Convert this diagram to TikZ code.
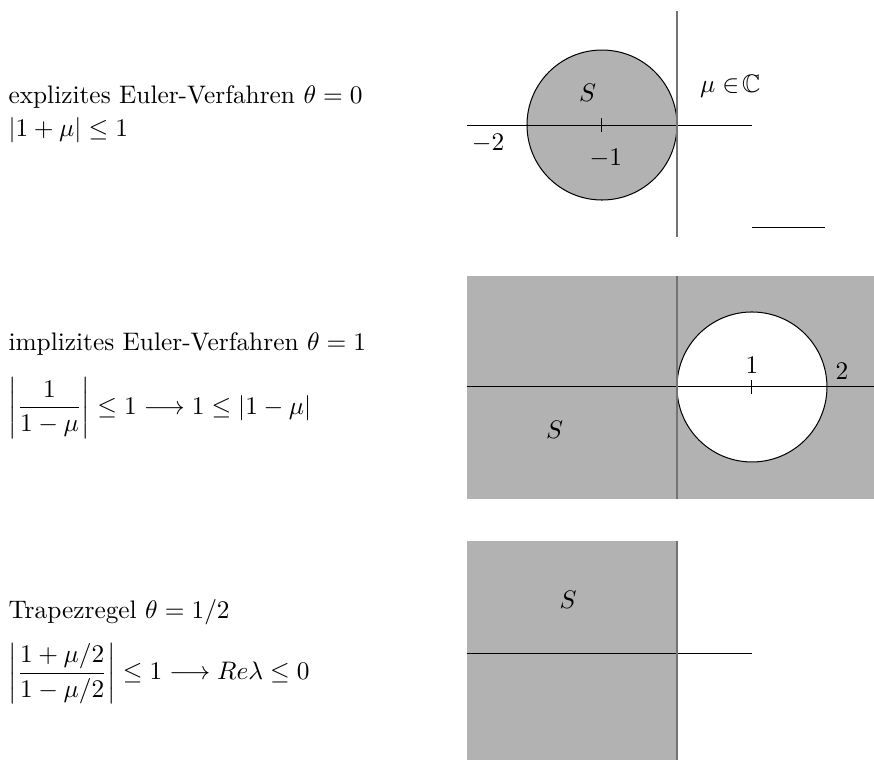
\documentclass[tikz,border=0pt]{standalone}
\definecolor{stabgray}{gray}{0.7}
\definecolor{axisgray}{gray}{0.45}
\usepackage{tikz}
\usepackage{amsmath,amssymb}

\begin{document}
\begin{tikzpicture}[x=1.04cm, y=1.04cm,
  axis/.style={thin, black},
  vaxis/.style={semithick, axisgray},
  region/.style={fill=stabgray},
  lbl/.style={inner sep=1pt},
  txt/.style={anchor=west, inner sep=0pt}]
\useasboundingbox (-9.027,1.667) rectangle (2.627,-8.467);
% explizites Euler-Verfahren
\node[txt] (expl) at (-8.92,0.37) {explizites Euler-Verfahren $\theta=0$};
\node[txt] (explf) at (-8.92,-0.07) {$|1+\mu|\le 1$};
\draw[region, thin] (-1,0) circle (1);
\draw[axis] (-2.8,0) -- (1,0);
\draw[axis] (-1,-0.09) -- (-1,0.09);
\draw[vaxis] (0,1.52) -- (0,-1.49);
\draw[axis] (1,-1.37) -- (1.97,-1.37);
\node[lbl] (s1) at (-1.19,0.43) {$S$};
\node[lbl] (c1) at (0.71,0.52) {$\mu\in\!\mathbb{C}$};
\node[lbl] (m2) at (-2.52,-0.24) {$-2$};
\node[lbl] (m1) at (-0.95,-0.44) {$-1$};
% implizites Euler-Verfahren
\begin{scope}[shift={(0,-3.493)}]
\node[txt] (impl) at (-8.92,0.57) {implizites Euler-Verfahren $\theta=1$};
\node[txt] (implf) at (-8.92,-0.28) {$\displaystyle\left|\frac{1}{1-\mu}\right|\le 1\longrightarrow 1\le|1-\mu|$};
\fill[stabgray] (-2.8,1.48) rectangle (2.627,-1.49);
\draw[fill=white, thin] (1,0) circle (1);
\draw[axis] (-2.8,0) -- (2.627,0);
\draw[axis] (1,-0.09) -- (1,0.09);
\draw[vaxis] (0,1.48) -- (0,-1.49);
\node[lbl] (p1) at (1,0.29) {$1$};
\node[lbl] (p2) at (2.2,0.21) {$2$};
\node[lbl] (s2) at (-1.63,-0.57) {$S$};
\end{scope}
% Trapezregel
\begin{scope}[shift={(0,-7.053)}]
\node[txt] (trap) at (-8.92,0.56) {Trapezregel $\theta=1/2$};
\node[txt] (trapf) at (-8.92,-0.26) {$\displaystyle\left|\frac{1+\mu/2}{1-\mu/2}\right|\le 1\longrightarrow Re\lambda\le 0$};
\fill[stabgray] (-2.8,1.51) rectangle (0,-1.41);
\draw[axis] (-2.8,0) -- (1,0);
\draw[vaxis] (0,1.51) -- (0,-1.41);
\node[lbl] (s3) at (-1.45,0.72) {$S$};
\end{scope}
\end{tikzpicture}
\end{document}
